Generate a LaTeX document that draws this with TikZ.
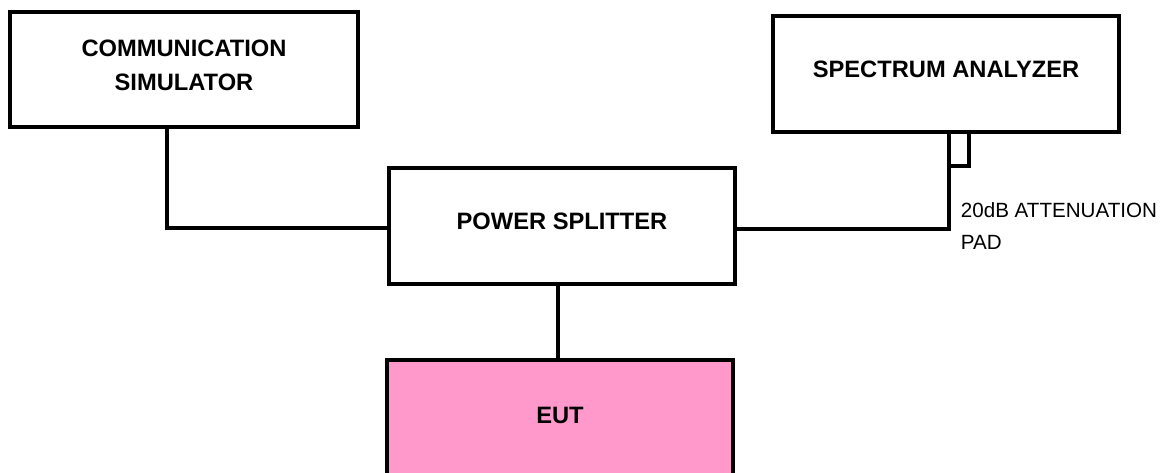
\documentclass[tikz,border=0pt]{standalone}
\usepackage{fontspec}
\setmainfont{Liberation Sans}
\definecolor{eutpink}{RGB}{255,153,204}
\begin{document}
\begin{tikzpicture}[x=1pt,y=1pt,
  box/.style={draw=black,line width=4pt,rectangle,inner sep=0pt,outer sep=0pt,fill=white},
  boxlbl/.style={font=\fontsize{23.7}{34}\selectfont\bfseries,align=center,inner sep=0pt,anchor=base},
  padlbl/.style={font=\fontsize{20.6}{32}\selectfont,align=left,inner sep=0pt,anchor=base west},
  wire/.style={line width=4pt}]
\useasboundingbox (0,0) rectangle (1168,-473);
\fill[white] (0,0) rectangle (1168,-473);
% boxes
\node[box,minimum width=348pt,minimum height=115pt] (comm) at (184,-69.5) {};
\node[box,minimum width=346pt,minimum height=116pt] (spec) at (946,-74) {};
\node[box,minimum width=346pt,minimum height=116pt] (split) at (562,-226) {};
\node[box,fill=eutpink,minimum width=346pt,minimum height=160pt] (eut) at (560,-440) {};
\node[box,minimum width=20pt,minimum height=34pt] (pad) at (959,-149) {};
% labels
\node[boxlbl] (commlbl) at (184,-91) {COMMUNICATION\\SIMULATOR};
\node[boxlbl] (speclbl) at (946,-78) {SPECTRUM ANALYZER};
\node[boxlbl] (splitlbl) at (562,-230) {POWER SPLITTER};
\node[boxlbl] (eutlbl) at (560,-423) {EUT};
\node[padlbl] (padtxt) at (960.7,-249.3) {20dB ATTENUATION\\PAD};
% connectors
\draw[wire] ([xshift=-17pt]comm.south) |- ([yshift=-2pt]split.west);
\draw[wire] ([xshift=-4pt]split.south) -- ([xshift=-2pt]eut.north);
\draw[wire] ([yshift=-3pt]split.east) -| (pad.south west);
\end{tikzpicture}
\end{document}
